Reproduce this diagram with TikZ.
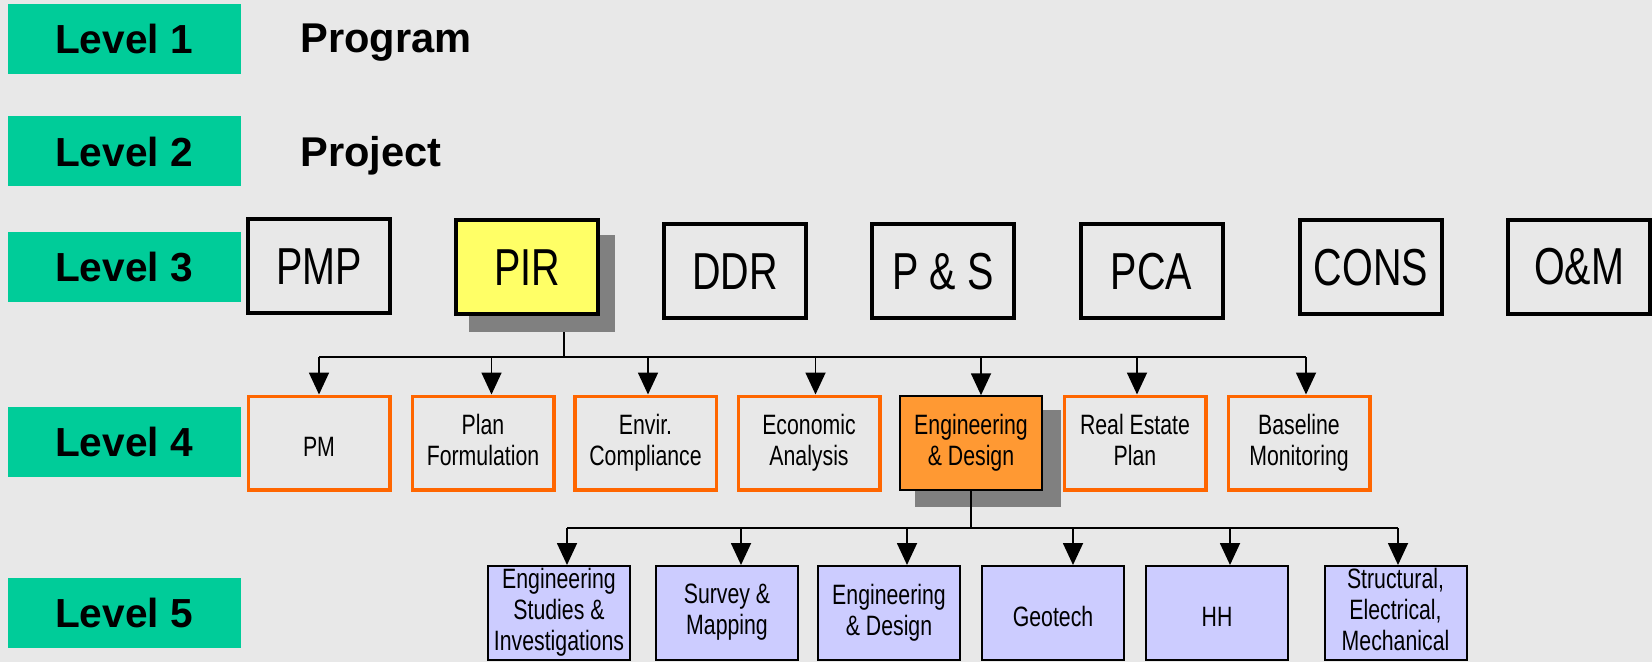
\documentclass[tikz,border=0pt]{standalone}
\usepackage{fontspec}
\setmainfont{Liberation Sans}
\newfontfamily\narrowfont[FakeStretch=0.76]{Liberation Sans}
\usepackage{tikz}
\usetikzlibrary{shapes,arrows.meta}
\definecolor{lgreen}{HTML}{00CC99}
\definecolor{lyellow}{HTML}{FFFF66}
\definecolor{lorange}{HTML}{FF9933}
\definecolor{dorange}{HTML}{FF6600}
\definecolor{lpurp}{HTML}{CCCCFF}
\definecolor{paper}{HTML}{E8E8E8}
\definecolor{shade}{HTML}{808080}
\newcommand{\topstrut}{\rule{0pt}{16.5pt}}
\newcommand{\botstrut}{\rule[-3.5pt]{0pt}{3.5pt}}
\tikzstyle{levelbox} = [rectangle, fill=lgreen, minimum width=116.5pt, minimum height=35pt, font=\fontsize{20.3}{24}\selectfont\bfseries]
\tikzstyle{title} = [anchor=base west, inner sep=0pt, font=\fontsize{20.8}{24}\selectfont\bfseries]
\tikzstyle{block} = [rectangle, draw, line width=2pt, minimum width=71pt, minimum height=47pt, inner sep=0pt, font=\narrowfont\fontsize{26}{30}\selectfont]
\tikzstyle{task} = [rectangle, draw=dorange, line width=1.75pt, align=center, minimum width=70.75pt, minimum height=46.75pt, inner sep=0pt, font=\narrowfont\fontsize{14}{15.5}\selectfont, execute at begin node=\topstrut, execute at end node=\botstrut]
\tikzstyle{subtask} = [rectangle, draw, line width=1pt, fill=lpurp, align=center, minimum width=71pt, minimum height=47pt, inner sep=0pt, font=\narrowfont\fontsize{14}{15.5}\selectfont, execute at begin node=\topstrut, execute at end node=\botstrut]
\tikzstyle{shadowbox} = [rectangle, fill=shade, minimum width=72.75pt, minimum height=48.5pt]
\tikzstyle{link} = [draw, line width=0.9pt]
\tikzstyle{arrow} = [draw, line width=0.9pt, -{Triangle[length=11pt, width=10pt]}]

\begin{document}
\begin{tikzpicture}[x=0.5pt, y=-0.5pt]
\fill[paper] (0, 0) rectangle (1652, 662);
\useasboundingbox (0, 0) rectangle (1652, 662);

%% level labels
\node[levelbox] at (124, 39) (levelone) {Level 1};
\node[levelbox] at (124, 151.5) (leveltwo) {Level 2};
\node[levelbox] at (124, 267.5) (levelthree) {Level 3};
\node[levelbox] at (124, 442) (levelfour) {Level 4};
\node[levelbox] at (124, 612.5) (levelfive) {Level 5};

\node[title] at (300, 53) (program) {Program};
\node[title] at (300, 167) (project) {Project};

%% level 3
\node[shadowbox] at (542, 283.5) (pirshadow) {};
\node[block] at (319, 266.5) (pmp) {PMP};
\node[block, fill=lyellow] at (527, 267.5) (pir) {PIR};
\node[block] at (735, 271.5) (ddr) {DDR};
\node[block] at (943, 271.5) (ps) {P \& S};
\node[block] at (1151.5, 271.5) (pca) {PCA};
\node[block] at (1371, 267.5) (cons) {CONS};
\node[block] at (1579, 267) (om) {O\&M};

%% level 4
\node[shadowbox] at (988, 458) (engshadow) {};
\node[task] at (319, 443) (pm) {PM};
\node[task] at (483, 443) (plan) {Plan\\Formulation};
\node[task] at (645.5, 443) (envir) {Envir.\\Compliance};
\node[task] at (809, 443) (econ) {Economic\\Analysis};
\node[task, draw=black, line width=1pt, fill=lorange] at (971, 443) (eng) {Engineering\\\& Design};
\node[task] at (1135, 443) (estate) {Real Estate\\Plan};
\node[task] at (1299, 443) (base) {Baseline\\Monitoring};

%% level 5
\node[subtask] at (559, 613) (studies) {Engineering\\Studies \&\\Investigations};
\node[subtask] at (727, 613) (survey) {Survey \&\\Mapping};
\node[subtask] at (889, 613) (design) {Engineering\\\& Design};
\node[subtask] at (1053, 613) (geotech) {Geotech};
\node[subtask] at (1217, 613) (hh) {HH};
\node[subtask] at (1395.5, 613) (struct) {Structural,\\Electrical,\\Mechanical};

%% PIR -> level 4
\coordinate (busfour) at (564, 357);
\coordinate (busfourend) at (1306, 357);
\path[link] (busfour |- pirshadow.south) -- (busfour);
\path[link] (pm.north |- busfour) -- (busfourend);
\foreach \n/\s in {pm/0, plan/4.25, envir/1.25, econ/3.25, eng/5, estate/1, base/3.5} {
  \path ([xshift=\s pt]\n.north) coordinate (tip);
  \path[arrow] (tip |- busfour) -- (tip);
}

%% Engineering & Design -> level 5
\coordinate (busfive) at (971, 528);
\coordinate (busfivestart) at (567, 528);
\coordinate (busfiveend) at (1398, 528);
\path[link] (eng.south) -- (busfive);
\path[link] (busfivestart) -- (busfiveend);
\foreach \n/\s in {studies/4, survey/7, design/9, geotech/10, hh/6.5, struct/1.25} {
  \path ([xshift=\s pt]\n.north) coordinate (tip);
  \path[arrow] (tip |- busfive) -- (tip);
}

\end{tikzpicture}
\end{document}
